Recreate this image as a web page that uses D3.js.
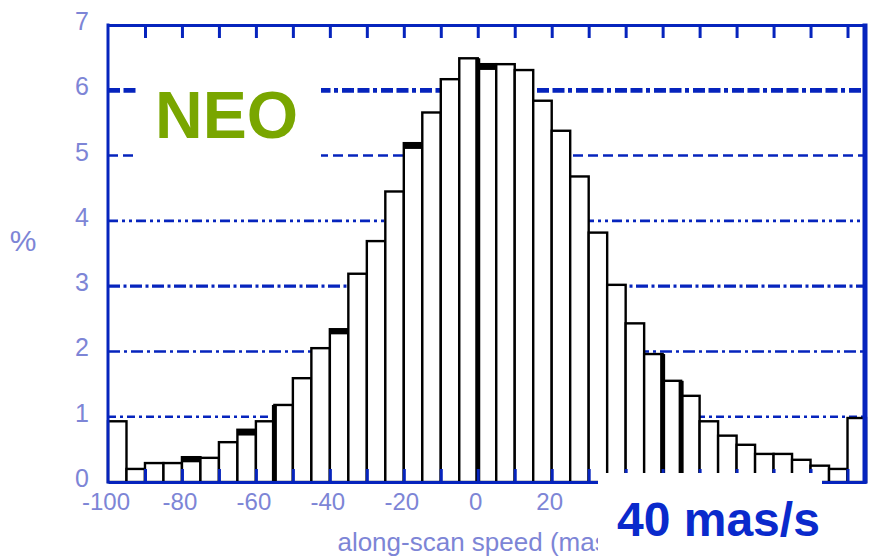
<!DOCTYPE html>
<html>
<head>
<meta charset="utf-8">
<script src="https://cdn.jsdelivr.net/npm/d3@7"></script>
<style>
body { margin: 0; background: #fff; }
svg { display: block; }
</style>
</head>
<body>
<div class="chart"></div>
<script>
// histogram of along-scan speed, bins of 5 mas/s (left edges)
const bins = [-100,-95,-90,-85,-80,-75,-70,-65,-60,-55,-50,-45,-40,-35,-30,-25,-20,-15,-10,-5,
              0,5,10,15,20,25,30,35,40,45,50,55,60,65,70,75,80,85,90,95,100];
const percent = [0.93,0.20,0.29,0.29,0.38,0.37,0.61,0.80,0.93,1.18,1.59,2.05,2.34,3.19,3.69,4.45,5.19,5.66,6.17,6.49,
                 6.40,6.40,6.31,5.84,5.38,4.68,3.82,3.02,2.43,1.96,1.55,1.32,0.93,0.71,0.57,0.43,0.43,0.34,0.25,0.20,0.98];
// second (overlaid) histogram where it differs from the first one
const overlapBins = [-80,-65,-40,-20,0];
const overlapValues = [0.32,0.73,2.28,5.12,6.33];
const heavyEdges = [-55,0,50,55];
const binWidth = 5;

const yTicks = [0,1,2,3,4,5,6,7];
const gridLevels = [1,2,3,4,5,6];
const xTicks = [-90,-80,-70,-60,-50,-40,-30,-20,-10,0,10,20,30,40,50,60,70,80,90,100];
const xLabels = [-100,-80,-60,-40,-20,0,20]; // the rest sit under the speed label

const W = 872, H = 556;
const blue = "#0624bd";
const labelColor = "#7d85d6";

var svg = d3.select(".chart").append("svg")
    .attr("width", W)
    .attr("height", H);

var x = d3.scaleLinear().domain([-100, 105]).range([108, 866]);
var y = d3.scaleLinear().domain([0, 7]).range([482, 25]);

// the speed label patch hides the end of the axis title
svg.append("clipPath")
    .attr("id", "titleClip")
    .append("rect")
    .attr("x", 0).attr("y", 0)
    .attr("width", 598).attr("height", H);

// dash-dot grid lines, each one a bit different like the scan
var gridDash = {1:"8,4,3,4", 2:"12,4,3,4", 3:"12,3.5,3,3.5", 4:"10,4,3,4,3,4", 5:"10,5", 6:"12,3.5,12,3.5,4,4"};
var gridWidth = {1:2.6, 2:2.6, 3:3.2, 4:2.6, 5:2.6, 6:4.8};

svg.selectAll(".grid")
    .data(gridLevels)
    .enter()
    .append("line")
    .attr("class", "grid")
    .attr("x1", x(-100))
    .attr("x2", x(105))
    .attr("y1", d => y(d))
    .attr("y2", d => y(d))
    .attr("stroke", blue)
    .attr("stroke-width", d => gridWidth[d])
    .attr("stroke-dasharray", d => gridDash[d]);

// bars
svg.selectAll(".bar")
    .data(bins)
    .enter()
    .append("rect")
    .attr("class", "bar")
    .attr("x", d => x(d))
    .attr("width", d => x(d + binWidth) - x(d))
    .attr("y", (d, i) => y(percent[i]))
    .attr("height", (d, i) => y(0) - y(percent[i]))
    .attr("fill", "#fff")
    .attr("stroke", "#000")
    .attr("stroke-width", 2.4);

// overlaid histogram tops
svg.selectAll(".overlap")
    .data(overlapBins)
    .enter()
    .append("line")
    .attr("class", "overlap")
    .attr("x1", d => x(d))
    .attr("x2", d => x(d + binWidth))
    .attr("y1", (d, i) => y(overlapValues[i]))
    .attr("y2", (d, i) => y(overlapValues[i]))
    .attr("stroke", "#000")
    .attr("stroke-width", 2.4);
svg.selectAll(".overlap-fill")
    .data(overlapBins)
    .enter()
    .append("rect")
    .attr("x", d => x(d))
    .attr("width", d => x(d + binWidth) - x(d))
    .attr("y", d => y(percent[bins.indexOf(d)]))
    .attr("height", (d, i) => y(overlapValues[i]) - y(percent[bins.indexOf(d)]))
    .attr("fill", "#000");

// heavy bin edges
svg.selectAll(".heavy")
    .data(heavyEdges)
    .enter()
    .append("line")
    .attr("x1", d => x(d))
    .attr("x2", d => x(d))
    .attr("y1", y(0))
    .attr("y2", function(d){
        var i = bins.indexOf(d);
        return y(Math.max(percent[i], percent[i - 1]));
    })
    .attr("stroke", "#000")
    .attr("stroke-width", 5);

// frame: top axis with inward ticks
svg.append("g")
    .attr("transform", `translate(0,${y(7)})`)
    .call(d3.axisTop(x).tickValues(xTicks).tickSizeInner(-13).tickSizeOuter(0).tickFormat(""))
    .call(g => g.selectAll("path,line").attr("stroke", blue).attr("stroke-width", 3));

// bottom axis with inward ticks
svg.append("g")
    .attr("transform", `translate(0,${y(0)})`)
    .call(d3.axisBottom(x).tickValues(xTicks).tickSizeInner(-13).tickSizeOuter(0).tickFormat(""))
    .call(g => g.selectAll("path,line").attr("stroke", blue).attr("stroke-width", 3));

// left and right sides
svg.append("line")
    .attr("x1", x(-100)).attr("x2", x(-100))
    .attr("y1", y(7) - 1.5).attr("y2", y(0) + 1.5)
    .attr("stroke", blue).attr("stroke-width", 3);
svg.append("line")
    .attr("x1", x(105) - 1).attr("x2", x(105) - 1)
    .attr("y1", y(7) - 1.5).attr("y2", y(0) + 1.5)
    .attr("stroke", blue).attr("stroke-width", 5);

// y tick labels
svg.selectAll(".ylab")
    .data(yTicks)
    .enter()
    .append("text")
    .attr("class", "ylab")
    .attr("x", 89)
    .attr("y", d => y(d) + 5)
    .attr("text-anchor", "end")
    .attr("font-family", "Liberation Sans, Arial, sans-serif")
    .attr("font-size", 25)
    .attr("fill", labelColor)
    .text(d => d);

svg.append("text") // y axis label
    .attr("x", 23)
    .attr("y", 251)
    .attr("text-anchor", "middle")
    .attr("font-family", "Liberation Sans, Arial, sans-serif")
    .attr("font-size", 30)
    .attr("fill", labelColor)
    .text("%");

// x tick labels
svg.selectAll(".xlab")
    .data(xLabels)
    .enter()
    .append("text")
    .attr("class", "xlab")
    .attr("x", d => x(d) - 2)
    .attr("y", 510)
    .attr("text-anchor", "middle")
    .attr("font-family", "Liberation Sans, Arial, sans-serif")
    .attr("font-size", 24)
    .attr("fill", labelColor)
    .text(d => d);

svg.append("text") // x axis title, cut by the speed label patch
    .attr("x", (x(-100) + x(105)) / 2)
    .attr("y", 551)
    .attr("text-anchor", "middle")
    .attr("clip-path", "url(#titleClip)")
    .attr("font-family", "Liberation Sans, Arial, sans-serif")
    .attr("font-size", 26)
    .attr("fill", labelColor)
    .text("along-scan speed (mas/s)");

// NEO label on a white patch
svg.append("rect")
    .attr("x", 136).attr("y", 42)
    .attr("width", 185).attr("height", 155)
    .attr("fill", "#fff");
svg.append("text")
    .attr("x", 155)
    .attr("y", 138)
    .attr("font-family", "Liberation Sans, Arial, sans-serif")
    .attr("font-weight", "bold")
    .attr("font-size", 66)
    .attr("fill", "#79a600")
    .text("NEO");

// speed label on a white patch
svg.append("rect")
    .attr("x", 598).attr("y", 473)
    .attr("width", 224).attr("height", H - 473)
    .attr("fill", "#fff");
svg.append("text")
    .attr("x", 617)
    .attr("y", 536)
    .attr("font-family", "Liberation Sans, Arial, sans-serif")
    .attr("font-weight", "bold")
    .attr("font-size", 48)
    .attr("fill", "#0a2acc")
    .text("40 mas/s");
</script>
</body>
</html>
